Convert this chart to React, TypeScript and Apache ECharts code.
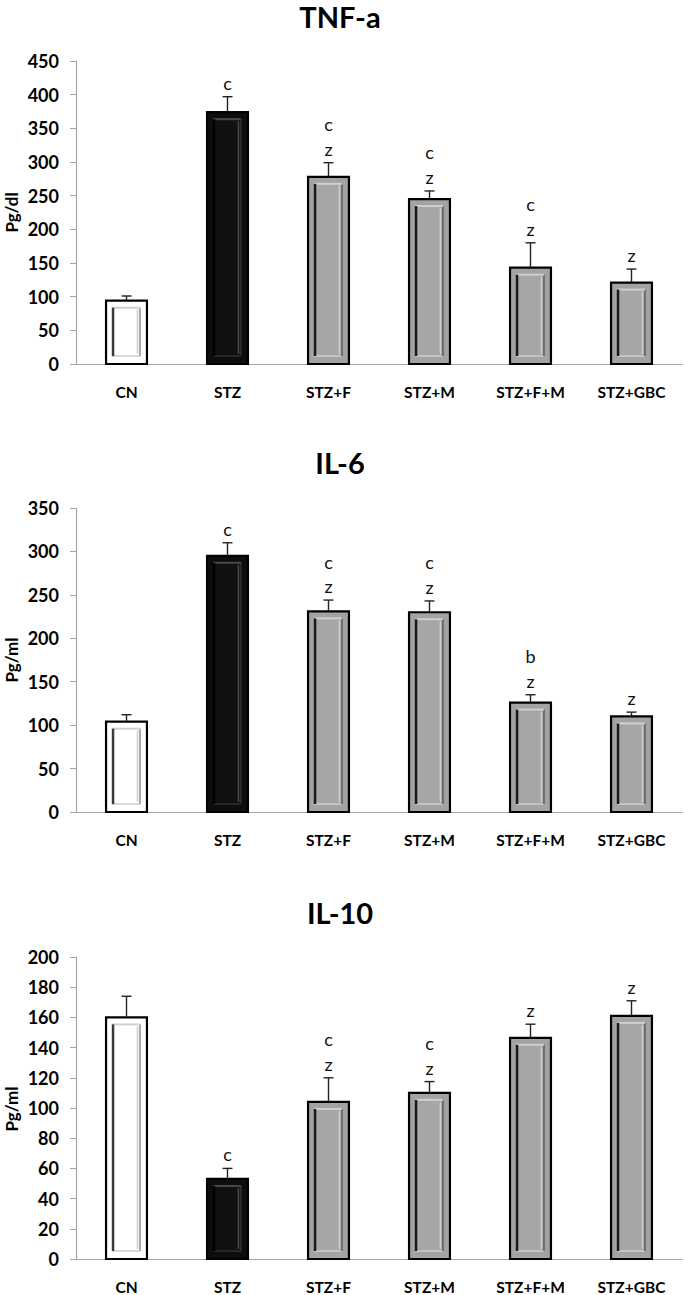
import React, { useEffect, useRef } from "react";
import * as echarts from "echarts";

const categories = ["CN", "STZ", "STZ+F", "STZ+M", "STZ+F+M", "STZ+GBC"];
const barKinds = ["white", "black", "gray", "gray", "gray", "gray"];

const tnfMeans = [94, 374, 278, 245, 143, 121];
const tnfErrors = [7, 23, 21, 12, 37, 20];
const tnfLetters = [[], ["c"], ["c", "z"], ["c", "z"], ["c", "z"], ["z"]];

const il6Means = [104, 295, 231, 230, 126, 110];
const il6Errors = [8, 15, 13, 13, 9, 5];
const il6Letters = [[], ["c"], ["c", "z"], ["c", "z"], ["b", "z"], ["z"]];

const il10Means = [160, 53, 104, 110, 146.5, 161];
const il10Errors = [14, 7, 16, 7.5, 9, 10];
const il10Letters = [[], ["c"], ["c", "z"], ["c", "z"], ["z"], ["z"]];

const panels = [
  { title: "TNF-a", unit: "Pg/dl", means: tnfMeans, errors: tnfErrors, letters: tnfLetters, max: 450, interval: 50, top: 61, height: 303, titleY: 16 },
  { title: "IL-6", unit: "Pg/ml", means: il6Means, errors: il6Errors, letters: il6Letters, max: 350, interval: 50, top: 508, height: 304, titleY: 462 },
  { title: "IL-10", unit: "Pg/ml", means: il10Means, errors: il10Errors, letters: il10Letters, max: 200, interval: 20, top: 957, height: 304, titleY: 912 },
];

const FONT = "Lato, 'Open Sans', sans-serif";

const palettes: Record<string, any> = {
  white: { fill: "#ffffff", inner: "#ffffff", dark: "#3a3a3a", light: "#d0d0d0", right: "#a8a8a8", bottom: "#d8d8d8" },
  black: { fill: "#0d0d0d", inner: "#111111", dark: "#000000", light: "#4a4a4a", right: "#2a2a2a", bottom: "#262626" },
  gray: { fill: "#a3a3a3", inner: "#a6a6a6", dark: "#1a1a1a", light: "#cfcfcf", right: "#6e6e6e", bottom: "#c4c4c4" },
};

function makeBarRenderer() {
  return (params: any, api: any) => {
    const i = api.value(0);
    const v = api.value(1);
    const top = api.coord([i, v]);
    const bot = api.coord([i, 0]);
    const w = api.size([1, 0])[0] * 0.405;
    const x0 = top[0] - w / 2;
    const y0 = top[1];
    const h = bot[1] - top[1];
    const pal = palettes[barKinds[i]];
    const ix = x0 + 6;
    const iy = y0 + 7;
    const iw = w - 13;
    const ih = h - 15;
    const children: any[] = [
      { type: "rect", shape: { x: x0, y: y0, width: w, height: h }, style: { fill: pal.fill, stroke: "#000", lineWidth: 2.2 } },
    ];
    if (ih > 0) {
      children.push(
        { type: "rect", shape: { x: ix, y: iy, width: iw, height: ih }, style: { fill: pal.inner, stroke: null } },
        { type: "line", shape: { x1: ix, y1: iy + ih, x2: ix + iw, y2: iy + ih }, style: { stroke: pal.bottom, lineWidth: 2 } },
        { type: "line", shape: { x1: ix + iw, y1: iy, x2: ix + iw, y2: iy + ih }, style: { stroke: pal.right, lineWidth: 2 } },
        { type: "line", shape: { x1: ix + iw - 2.5, y1: iy + 2, x2: ix + iw - 2.5, y2: iy + ih - 2 }, style: { stroke: pal.light, lineWidth: 1.5 } },
        { type: "line", shape: { x1: ix, y1: iy, x2: ix + iw, y2: iy }, style: { stroke: pal.light, lineWidth: 2 } },
        { type: "line", shape: { x1: ix + 1, y1: iy, x2: ix + 1, y2: iy + ih }, style: { stroke: pal.dark, lineWidth: 2.5 } }
      );
    }
    return { type: "group", children };
  };
}

function makeErrRenderer(letters: string[][]) {
  return (params: any, api: any) => {
    const i = api.value(0);
    const v = api.value(1);
    const e = api.value(2);
    const base = api.coord([i, v]);
    const top = api.coord([i, v + e]);
    const children: any[] = [
      { type: "line", shape: { x1: base[0], y1: base[1], x2: top[0], y2: top[1] }, style: { stroke: "#222", lineWidth: 1.4 } },
      { type: "line", shape: { x1: top[0] - 5, y1: top[1], x2: top[0] + 5, y2: top[1] }, style: { stroke: "#222", lineWidth: 1.4 } },
    ];
    const ls = letters[i] || [];
    const n = ls.length;
    for (let k = 0; k < n; k++) {
      children.push({
        type: "text",
        x: top[0],
        y: top[1] - 14 - 24.5 * k,
        style: { text: ls[n - 1 - k], align: "center", verticalAlign: "middle", fill: "#111", font: `18px ${FONT}` },
      });
    }
    return { type: "group", children };
  };
}

export default function App() {
  const ref = useRef<HTMLDivElement>(null);
  useEffect(() => {
    if (!ref.current) return;
    const chart = echarts.init(ref.current, null, { renderer: "svg" });
    const grid: any[] = [];
    const xAxis: any[] = [];
    const yAxis: any[] = [];
    const series: any[] = [];
    const graphic: any[] = [];
    panels.forEach((p, idx) => {
      grid.push({ left: 76, right: 3, top: p.top, height: p.height, containLabel: false });
      xAxis.push({
        type: "category",
        gridIndex: idx,
        data: categories,
        axisLine: { show: true, lineStyle: { color: "#a6a6a6", width: 1.2 } },
        axisTick: { show: false },
        axisLabel: { color: "#000", fontWeight: "bold", fontSize: 15.5, fontFamily: FONT, margin: 20, interval: 0 },
        splitLine: { show: false },
      });
      yAxis.push({
        type: "value",
        gridIndex: idx,
        min: 0,
        max: p.max,
        interval: p.interval,
        axisLine: { show: true, lineStyle: { color: "#a6a6a6", width: 1.2 } },
        axisTick: { show: true, length: 6, lineStyle: { color: "#a6a6a6" } },
        axisLabel: { color: "#000", fontWeight: "bold", fontSize: 18, fontFamily: FONT, margin: 17 },
        splitLine: { show: false },
      });
      series.push({
        type: "custom",
        xAxisIndex: idx,
        yAxisIndex: idx,
        renderItem: makeBarRenderer(),
        data: p.means.map((m, i) => [i, m]),
        z: 2,
      });
      series.push({
        type: "custom",
        xAxisIndex: idx,
        yAxisIndex: idx,
        renderItem: makeErrRenderer(p.letters),
        data: p.means.map((m, i) => [i, m, p.errors[i]]),
        z: 3,
      });
      graphic.push({
        type: "text",
        x: 340,
        y: p.titleY,
        style: { text: p.title, align: "center", verticalAlign: "middle", fill: "#000", font: `bold 29px ${FONT}` },
      });
      graphic.push({
        type: "text",
        x: 11,
        y: p.top + p.height / 2,
        rotation: Math.PI / 2,
        style: { text: p.unit, align: "center", verticalAlign: "middle", fill: "#000", font: `bold 17px ${FONT}` },
      });
    });
    chart.setOption({
      animation: false,
      backgroundColor: "#fff",
      grid,
      xAxis,
      yAxis,
      series,
      graphic,
    });
    return () => chart.dispose();
  }, []);
  return <div ref={ref} style={{ position: "absolute", left: 0, top: 0, width: 685, height: 1295 }} />;
}
